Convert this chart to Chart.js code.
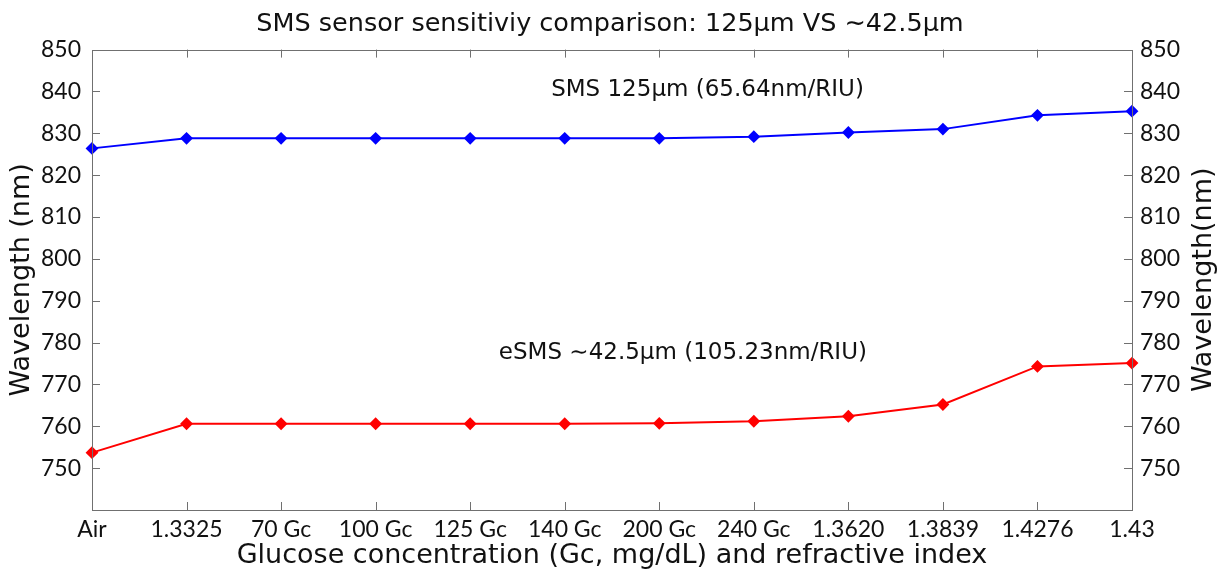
<!DOCTYPE html>
<html>
<head>
<meta charset="utf-8">
<script src="https://cdn.jsdelivr.net/npm/chart.js@4"></script>
<style>
  html, body { margin: 0; padding: 0; background: #fff; }
  #wrap { width: 1220px; height: 572px; }
</style>
</head>
<body>
<div id="wrap"><canvas id="c"></canvas></div>
<script>
const CATEGORIES = ['Air', '1.3325', '70 Gc', '100 Gc', '125 Gc', '140 Gc', '200 Gc', '240 Gc', '1.3620', '1.3839', '1.4276', '1.43'];
const SMS_125 = [826.4, 828.8, 828.8, 828.8, 828.8, 828.8, 828.8, 829.2, 830.2, 831.0, 834.3, 835.3];
const ESMS_42 = [753.7, 760.6, 760.6, 760.6, 760.6, 760.6, 760.7, 761.2, 762.4, 765.2, 774.3, 775.1];
const Y_MIN = 740, Y_MAX = 850, Y_STEP = 10;

// series annotations, anchored in data coordinates (category index, wavelength)
const NOTES = [
  { text: 'SMS 125\u03bcm (65.64nm/RIU)', x: 6.51, y: 840.4 },
  { text: 'eSMS \u223c42.5\u03bcm (105.23nm/RIU)', x: 6.25, y: 777.6 },
];

const AXIS = '#707070';
const TEXT = '#111';
const TICK_FONT = { family: 'Lato', size: 23 };
const LABEL_FONT = { family: 'DejaVu Sans', size: 27 };

// MATLAB style box with inward tick marks, notes and the right axis label
const boxTicks = {
  id: 'boxTicks',
  afterDatasetsDraw(chart) {
    const { ctx, chartArea: a, scales } = chart;
    const len = 8;
    ctx.save();
    ctx.strokeStyle = AXIS;
    ctx.lineWidth = 1;
    ctx.beginPath();
    scales.x.ticks.forEach((t, i) => {
      if (i === 0 || i === scales.x.ticks.length - 1) return;
      const px = Math.round(scales.x.getPixelForTick(i)) + 0.5;
      ctx.moveTo(px, a.bottom); ctx.lineTo(px, a.bottom - len);
      ctx.moveTo(px, a.top); ctx.lineTo(px, a.top + len);
    });
    scales.y.ticks.forEach(t => {
      if (t.value <= Y_MIN || t.value >= Y_MAX) return;
      const py = Math.round(scales.y.getPixelForValue(t.value)) + 0.5;
      ctx.moveTo(a.left, py); ctx.lineTo(a.left + len, py);
    });
    scales.y2.ticks.forEach(t => {
      if (t.value <= Y_MIN || t.value >= Y_MAX) return;
      const py = Math.round(scales.y2.getPixelForValue(t.value)) + 0.5;
      ctx.moveTo(a.right, py); ctx.lineTo(a.right - len, py);
    });
    ctx.stroke();
    ctx.strokeRect(Math.round(a.left) + 0.5, Math.round(a.top) + 0.5,
      Math.round(a.right - a.left), Math.round(a.bottom - a.top));

    ctx.fillStyle = TEXT;
    ctx.font = '23px "DejaVu Sans"';
    ctx.textAlign = 'center';
    ctx.textBaseline = 'middle';
    NOTES.forEach(n => {
      ctx.fillText(n.text, scales.x.getPixelForValue(n.x), scales.y.getPixelForValue(n.y));
    });

    // right axis title reads bottom-to-top like the left one
    ctx.font = `${LABEL_FONT.size}px "${LABEL_FONT.family}"`;
    ctx.translate(1204, (a.top + a.bottom) / 2);
    ctx.rotate(-Math.PI / 2);
    ctx.fillText('Wavelength(nm)', 0, 0);
    ctx.restore();
  }
};

new Chart(document.getElementById('c'), {
  type: 'line',
  data: {
    labels: CATEGORIES,
    datasets: [
      {
        label: 'SMS 125\u03bcm',
        data: SMS_125,
        borderColor: '#0000ff',
        backgroundColor: '#0000ff',
        borderWidth: 2,
        pointStyle: 'rectRot',
        pointRadius: 5,
        yAxisID: 'y',
        clip: false,
      },
      {
        label: 'eSMS \u223c42.5\u03bcm',
        data: ESMS_42,
        borderColor: '#ff0000',
        backgroundColor: '#ff0000',
        borderWidth: 2,
        pointStyle: 'rectRot',
        pointRadius: 5,
        yAxisID: 'y',
        clip: false,
      },
    ],
  },
  options: {
    responsive: true,
    maintainAspectRatio: false,
    animation: false,
    layout: { padding: 0 },
    plugins: {
      legend: { display: false },
      tooltip: { enabled: false },
      title: {
        display: true,
        text: 'SMS sensor sensitiviy comparison: 125\u03bcm VS \u223c42.5\u03bcm',
        color: TEXT,
        font: { family: 'DejaVu Sans', size: 25.5, weight: 'normal' },
        padding: { top: 9, bottom: 10 },
      },
    },
    scales: {
      x: {
        grid: { display: false, drawTicks: false },
        border: { display: false },
        ticks: { color: TEXT, font: TICK_FONT, padding: 6, maxRotation: 0, autoSkip: false },
        title: {
          display: true,
          text: 'Glucose concentration (Gc, mg/dL) and refractive index',
          color: TEXT,
          font: LABEL_FONT,
          padding: { top: 0, bottom: 0 },
        },
        afterFit(s) { s.height = 62; },
      },
      y: {
        position: 'left',
        min: Y_MIN, max: Y_MAX,
        grid: { display: false, drawTicks: false },
        border: { display: false },
        ticks: {
          stepSize: Y_STEP, color: TEXT, font: TICK_FONT, padding: 11,
          callback: v => (v === Y_MIN ? '' : v),
        },
        title: {
          display: true,
          text: 'Wavelength (nm)',
          color: TEXT,
          font: LABEL_FONT,
          padding: { top: 6, bottom: 0 },
        },
        afterFit(s) { s.width = 92; },
      },
      y2: {
        position: 'right',
        min: Y_MIN, max: Y_MAX,
        grid: { display: false, drawTicks: false },
        border: { display: false },
        ticks: {
          stepSize: Y_STEP, color: TEXT, font: TICK_FONT, padding: 8,
          callback: v => (v === Y_MIN ? '' : v),
        },
        afterFit(s) { s.width = 88; },
      },
    },
  },
  plugins: [boxTicks],
});
</script>
</body>
</html>
